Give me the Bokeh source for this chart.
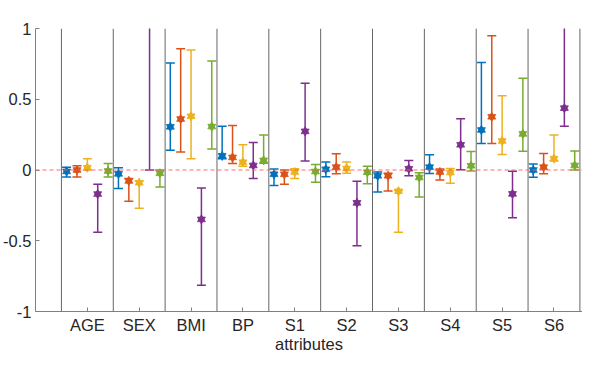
from bokeh.plotting import figure
from bokeh.models import Span, FixedTicker, ColumnDataSource, Range1d
from bokeh.embed import file_html
from bokeh.resources import INLINE

attributes = ["AGE", "SEX", "BMI", "BP", "S1", "S2", "S3", "S4", "S5", "S6"]
series_names = ["model 1", "model 2", "model 3", "model 4", "model 5"]
series_colors = ["#0072BD", "#D95319", "#EDB120", "#7E2F8E", "#77AC30"]
series_offsets = [-0.4, -0.2, 0.0, 0.2, 0.4]

# estimated centre, lower and upper values per attribute
blue_mean = [-0.01, -0.027, 0.305, 0.10, -0.03, 0.005, -0.041, 0.02, 0.283, 0.0]
blue_low = [-0.05, -0.13, 0.14, 0.08, -0.11, -0.048, -0.155, -0.025, 0.187, -0.052]
blue_high = [0.02, 0.016, 0.757, 0.31, 0.007, 0.057, -0.014, 0.107, 0.759, 0.043]

orange_mean = [0.0, -0.077, 0.36, 0.089, -0.03, 0.02, -0.041, -0.014, 0.376, 0.02]
orange_low = [-0.05, -0.22, 0.128, 0.046, -0.10, -0.027, -0.148, -0.07, 0.187, -0.027]
orange_high = [0.03, -0.06, 0.857, 0.314, 0.0, 0.114, -0.023, 0.007, 0.948, 0.116]

yellow_mean = [0.016, -0.09, 0.38, 0.055, -0.014, 0.011, -0.15, -0.018, 0.205, 0.08]
yellow_low = [0.0, -0.27, 0.08, 0.027, -0.06, -0.023, -0.44, -0.093, 0.109, 0.064]
yellow_high = [0.08, -0.077, 0.848, 0.178, 0.009, 0.057, -0.144, 0.011, 0.524, 0.248]

purple_mean = [-0.17, 1.3, -0.349, 0.032, 0.273, -0.232, 0.009, 0.178, -0.169, 0.437]
purple_low = [-0.44, 0.0, -0.815, -0.06, 0.064, -0.535, -0.041, 0.002, -0.337, 0.31]
purple_high = [-0.10, 2.6, -0.128, 0.194, 0.613, -0.08, 0.068, 0.362, -0.009, 1.05]

green_mean = [-0.007, -0.023, 0.307, 0.068, -0.011, -0.016, -0.053, 0.03, 0.255, 0.032]
green_low = [-0.05, -0.12, 0.148, 0.048, -0.087, -0.098, -0.19, -0.007, 0.132, 0.0]
green_high = [0.046, 0.0, 0.77, 0.248, 0.039, 0.027, -0.02, 0.13, 0.649, 0.135]

y_ticks = [-1, -0.5, 0, 0.5, 1]
y_tick_labels = ["-1", "-0.5", "0", "0.5", "1"]

means = [blue_mean, orange_mean, yellow_mean, purple_mean, green_mean]
lows = [blue_low, orange_low, yellow_low, purple_low, green_low]
highs = [blue_high, orange_high, yellow_high, purple_high, green_high]

FONT = "Liberation Sans"
TXT = "#262626"
FS = "16.5px"

n = len(attributes)
p = figure(width=582, height=355, output_backend="svg", toolbar_location=None,
           x_range=Range1d(0.0, 10.55), y_range=Range1d(-1, 1),
           min_border_top=28, min_border_right=0, min_border_left=4, min_border_bottom=0)
p.outline_line_color = None
p.xgrid.visible = False
p.ygrid.visible = False
p.background_fill_color = "white"
p.border_fill_color = "white"

# group separators
for k in range(n + 1):
    p.add_layout(Span(location=k + 0.5, dimension="height",
                      line_color="#666666", line_width=1))

p.add_layout(Span(location=0, dimension="width", line_color="#ff5a5a",
                  line_width=1, line_dash="4 3", line_alpha=0.9))

for s in range(len(series_names)):
    xs = [i + 1 + series_offsets[s] for i in range(n)]
    src = ColumnDataSource(dict(x=xs, m=means[s], lo=lows[s], hi=highs[s]))
    c = series_colors[s]
    p.segment(x0="x", y0="lo", x1="x", y1="hi", source=src, line_color=c, line_width=1.5)
    p.scatter(x="x", y="lo", source=src, marker="dash", size=9, line_color=c, line_width=1.5)
    p.scatter(x="x", y="hi", source=src, marker="dash", size=9, line_color=c, line_width=1.5)
    p.scatter(x="x", y="m", source=src, marker="triangle", size=8,
              fill_color=c, line_color=c, line_width=0.8)
    p.scatter(x="x", y="m", source=src, marker="inverted_triangle", size=8,
              fill_color=c, line_color=c, line_width=0.8)

p.xaxis.ticker = FixedTicker(ticks=[i + 1 for i in range(n)])
p.xaxis.major_label_overrides = {i + 1: attributes[i] for i in range(n)}
p.yaxis.ticker = FixedTicker(ticks=y_ticks)
p.yaxis.major_label_overrides = {t: l for t, l in zip(y_ticks, y_tick_labels)}
p.xaxis.axis_label = "attributes"

for ax in (p.xaxis, p.yaxis):
    ax.major_tick_in = 4
    ax.major_tick_out = 0
    ax.minor_tick_line_color = None
    ax.axis_line_color = "#808080"
    ax.major_tick_line_color = "#808080"
    ax.major_label_text_font = FONT
    ax.major_label_text_font_size = FS
    ax.major_label_text_color = TXT
    ax.axis_label_text_font = FONT
    ax.axis_label_text_font_size = FS
    ax.axis_label_text_font_style = "normal"
    ax.axis_label_text_color = TXT

p.xaxis.major_label_standoff = 4
p.xaxis.axis_label_standoff = -2
p.yaxis.major_label_standoff = 4

open("out.html", "w").write(file_html(p, INLINE))
